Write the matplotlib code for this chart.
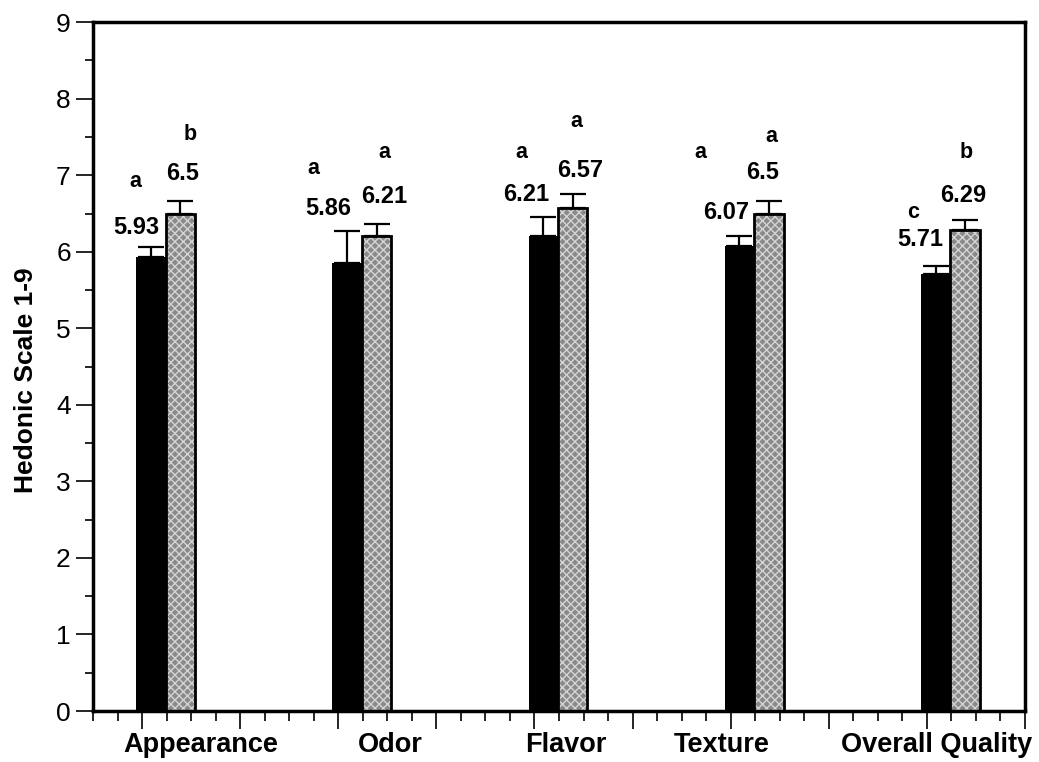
import numpy as np
import matplotlib
matplotlib.use("Agg")
import matplotlib.pyplot as plt
from matplotlib.ticker import MultipleLocator

plt.rcParams['font.family'] = ['Liberation Sans', 'DejaVu Sans']
plt.rcParams['hatch.linewidth'] = 1.0

categories = ['Appearance', 'Odor', 'Flavor', 'Texture', 'Overall Quality']
black_vals = [5.93, 5.86, 6.21, 6.07, 5.71]
gray_vals = [6.5, 6.21, 6.57, 6.5, 6.29]
black_err = [0.13, 0.41, 0.24, 0.13, 0.11]
gray_err = [0.17, 0.15, 0.19, 0.17, 0.13]
black_letters = ['a', 'a', 'a', 'a', 'c']
gray_letters = ['b', 'a', 'a', 'a', 'b']

# hand placed annotation spots (x offset from group start, y)
black_val_pos = [(-0.06, 6.32), (-0.10, 6.56), (-0.08, 6.75), (-0.05, 6.51), (-0.07, 6.16)]
gray_val_pos = [(0.41, 7.02), (0.47, 6.72), (0.47, 7.06), (0.33, 7.03), (0.37, 6.73)]
black_let_pos = [(-0.07, 6.92), (-0.25, 7.09), (-0.13, 7.30), (-0.31, 7.30), (-0.14, 6.51)]
gray_let_pos = [(0.49, 7.53), (0.47, 7.30), (0.43, 7.70), (0.42, 7.51), (0.40, 7.30)]
label_x = [0.6, 2.53, 4.32, 5.91, 8.1]

x0 = np.arange(len(categories)) * 2.0
w = 0.3

fig = plt.figure(figsize=(10.39, 7.62), dpi=100)
ax = fig.add_axes([0.0895, 0.0669, 0.897, 0.904])

ax.bar(x0 + 0.09, black_vals, w, color='black', edgecolor='black', linewidth=0)
# checkered gray bars: hatch layer then black outline
ax.bar(x0 + 0.39, gray_vals, w, color='#8a8a8a', edgecolor='#d4d4d4', hatch='xxxx', linewidth=0)
ax.bar(x0 + 0.39, gray_vals, w, fill=False, edgecolor='black', linewidth=2)

ax.errorbar(x0 + 0.09, black_vals, yerr=[np.zeros(5), black_err], fmt='none',
            ecolor='black', elinewidth=1.6, capsize=9.5, capthick=1.6)
ax.errorbar(x0 + 0.39, gray_vals, yerr=[np.zeros(5), gray_err], fmt='none',
            ecolor='black', elinewidth=1.6, capsize=9.5, capthick=1.6)

for i in range(len(categories)):
    bx, by = black_val_pos[i]
    ax.text(x0[i] + bx, by, f"{black_vals[i]:g}", ha='center', va='center',
            fontsize=17, fontweight='bold')
    gx, gy = gray_val_pos[i]
    ax.text(x0[i] + gx, gy, f"{gray_vals[i]:g}", ha='center', va='center',
            fontsize=17, fontweight='bold')
    lx, ly = black_let_pos[i]
    ax.text(x0[i] + lx, ly, black_letters[i], ha='center', va='center',
            fontsize=15.5, fontweight='bold')
    lx, ly = gray_let_pos[i]
    ax.text(x0[i] + lx, ly, gray_letters[i], ha='center', va='center',
            fontsize=15.5, fontweight='bold')
    ax.text(label_x[i], -0.44, categories[i], ha='center', va='center',
            fontsize=19.5, fontweight='bold', clip_on=False)

ax.set_xlim(-0.5, 9.0)
ax.set_ylim(0, 9)
ax.xaxis.set_major_locator(MultipleLocator(1))
ax.xaxis.set_minor_locator(MultipleLocator(0.25))
ax.yaxis.set_major_locator(MultipleLocator(1))
ax.yaxis.set_minor_locator(MultipleLocator(0.5))
ax.set_xticklabels([])
ax.tick_params(axis='x', which='major', length=13, width=1.2, direction='out')
ax.tick_params(axis='x', which='minor', length=7, width=1.2, direction='out')
ax.tick_params(axis='y', which='major', length=12, width=1.2, direction='out',
               labelsize=19, pad=4)
ax.tick_params(axis='y', which='minor', length=6, width=1.2, direction='out')

for s in ax.spines.values():
    s.set_linewidth(2.5)

ax.set_ylabel('Hedonic Scale 1-9', fontsize=19, fontweight='bold')
ax.yaxis.set_label_coords(-0.059, 0.48)

fig.savefig('out.png', dpi=100)
